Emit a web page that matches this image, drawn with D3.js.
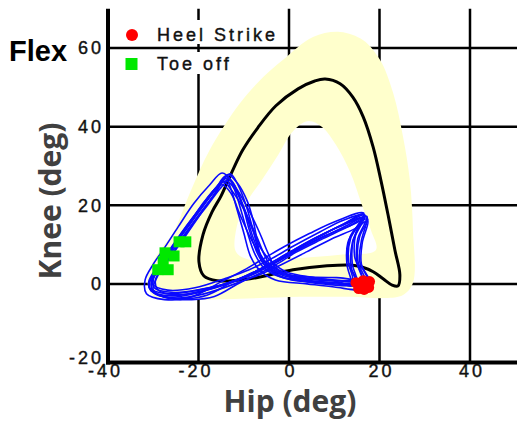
<!DOCTYPE html>
<html>
<head>
<meta charset="utf-8">
<script src="https://cdn.jsdelivr.net/npm/d3@7"></script>
<style>
body { margin: 0; background: #fff; }
</style>
</head>
<body>
<script>
let width = 517;
let height = 425;

// tick labels
let xTicks = [-40, -20, 0, 20, 40];
let yTicks = [-20, 0, 20, 40, 60];

// mean knee/hip curve (closed loop)
let meanCurve = [
	[8.0, 52.1], [11.3, 50.9], [14.1, 47.5], [16.4, 42.5], [18.6, 34.8], [20.3, 26.4],
	[21.9, 17.5], [23.4, 8.6], [24.5, 2.3], [24.1, -0.5], [22.8, -0.3], [20.8, 1.3],
	[18.6, 3.1], [16.1, 4.3], [13.5, 4.8], [8.4, 4.6], [0.9, 3.6], [-8.6, 1.3],
	[-15.9, 0.8], [-18.8, 2.0], [-19.9, 5.6], [-19.0, 12.5], [-17.0, 18.3], [-15.0, 22.4],
	[-12.6, 28.5], [-10.2, 34.1], [-6.9, 39.7], [-2.9, 45.3], [2.0, 49.6], [5.7, 51.6]
];

// normal band, outer edge and inner hole
let bandOuter = [
	[-30.7, -2.0], [-31.2, 2.3], [-28.5, 8.6], [-25.6, 13.0], [-21.9, 23.1], [-17.5, 34.1],
	[-10.8, 46.0], [-5.7, 52.6], [-1.3, 57.0], [5.3, 62.8], [11.3, 64.1], [16.4, 62.0],
	[20.1, 57.0], [23.0, 48.6], [25.2, 37.4], [26.7, 26.4], [27.4, 13.7], [27.4, 0.3],
	[25.2, -2.8], [21.2, -3.6], [13.5, -3.3], [2.4, -3.3], [-10.8, -3.8], [-24.1, -4.1],
	[-29.0, -3.8]
];
let bandInner = [
	[4.2, 41.4], [7.3, 39.9], [10.4, 35.3], [13.5, 28.5], [16.1, 20.1], [18.1, 13.7],
	[19.2, 8.6], [11.3, 7.4], [2.4, 6.6], [-8.6, 6.1], [-11.7, 8.1], [-11.7, 13.7],
	[-9.7, 20.1], [-6.0, 26.4], [-2.4, 32.8], [0.7, 38.6]
];

// measured cycles
let cycle1 = [[15,0.3],[14,5],[14.2,11],[16.8,17.5],[12,15.2],[6.5,12],[1,8.5],[-3.5,5.2],[-8,2.8],[-13,0.5],[-20,-2],[-26,-3],[-30.5,-1.8],[-31,0.5],[-29,4.5],[-26.5,8.5],[-23,14.2],[-19.5,19.5],[-16.5,24],[-13.5,27],[-12.2,24.5],[-10.8,19.5],[-9.3,13.5],[-7.5,7.5],[-5.5,4],[-2,1.8],[5,0.8],[11,0.3]];
let cycle2 = [[16.5,-0.5],[15,5.5],[15.2,11.5],[17.2,17],[13,14.5],[7,11.2],[1.5,8],[-3,4.8],[-7,2.4],[-12,0],[-19,-2.6],[-25,-3.6],[-29.5,-2.5],[-30.5,0],[-28.5,4],[-26,8],[-22.5,13.5],[-19,19],[-16,23.5],[-14.5,26],[-12.5,23.5],[-9.8,18.5],[-8,12],[-6,6.5],[-4,3.5],[0,1.2],[7,0.3],[12.5,-0.2]];
let cycle3 = [[14,0.8],[13,6],[13.5,12],[16.2,16.5],[11,14.5],[5.5,11.5],[0,8],[-4.5,5],[-9,2.2],[-14,0],[-21,-1.8],[-27,-2.5],[-30.8,-1],[-30.5,1.5],[-28,5.5],[-25.5,9.5],[-22,15],[-18.5,20.5],[-15.5,25],[-13,28],[-11.2,25],[-9.5,20],[-8,14],[-6.5,8],[-4.5,4.5],[-1,2],[6,1],[11,0.8]];
let cycle4 = [[17,0],[15.2,6],[15.6,12],[17.4,16.5],[13.5,14.8],[8,12.3],[2.5,9],[-2.5,5.8],[-6.5,3.2],[-11,1],[-18,-1.5],[-24.5,-2.8],[-29,-1.5],[-29.5,1],[-27.5,5],[-25,9],[-21.5,14.8],[-18,20],[-15,24.5],[-13.2,26.5],[-11.5,24],[-9,19],[-6.5,13],[-4.5,7.5],[-3,4.2],[1,2],[8,1.2],[13.5,0.5]];
let cycle5 = [[15.8,-1.2],[13.8,4],[14,10.5],[16.4,17.8],[12.5,15.5],[7.5,12.5],[2,9],[-2,6],[-7,3],[-12,0.8],[-18,-2.8],[-23,-3.8],[-28.5,-3],[-31,-0.5],[-29.5,3],[-27,7.2],[-24,12.5],[-20.5,18],[-17.5,22.5],[-14,26.8],[-12.8,24],[-11.5,19],[-10,13],[-8.5,7],[-6.5,3.5],[-3,1],[4,0],[10,-0.8]];
let cycle6 = [[14.8,0],[13.2,5.5],[13.6,11.5],[16.2,16.8],[11.5,14.8],[6,11.8],[0.5,8.3],[-4,5.3],[-8.5,2.5],[-13.5,0.2],[-20.5,-2.4],[-26.5,-3.4],[-30,-2.2],[-30.2,0.8],[-28.2,4.8],[-25.8,8.8],[-22.8,14],[-19.2,19.8],[-16.2,24.2],[-14,27.4],[-12,24.8],[-10.2,19.8],[-8.8,13.8],[-7,7.8],[-5,4.2],[-1.5,1.6],[5.5,0.5],[11,0.2]];
let cycle7 = [[17.5,0.5],[15.6,5.8],[16,11],[17.2,17.2],[13,15],[7.8,12],[2.2,8.8],[-2.8,5.6],[-7.8,3],[-12.5,0.6],[-19.5,-1.4],[-25.5,-2.2],[-29.8,-1],[-29.8,2],[-27.8,6],[-25.2,10],[-22,15.4],[-18.8,20.8],[-15.8,24.8],[-13.8,26.2],[-11.8,23.8],[-9.6,18.2],[-7.2,12.2],[-5.2,6.8],[-3.6,4],[0.5,1.9],[8.5,1],[14,0.8]];
let cycle8 = [[13.8,-0.5],[12.8,5],[13,10.5],[16.5,18],[10.5,16],[4.5,12.8],[-1,9.5],[-5.5,6.5],[-10,3.5],[-15,0.5],[-22,-3.5],[-27.5,-4],[-31.5,-2.5],[-31.8,1],[-30,5],[-27.5,9.2],[-24.5,14.5],[-21,20.5],[-17.5,25.2],[-14.8,28.2],[-12.5,26],[-10.5,21],[-8.5,15],[-6.2,9],[-4,5.8],[-0.5,3],[6,1.5],[11,0.5]];
let cycle9 = [[18.2,-0.3],[16,5],[16.2,10.5],[17.4,16],[14.5,14],[9.5,11.5],[4,8.2],[-1.5,5],[-6,2.6],[-10.5,0.5],[-16.5,-3.2],[-21.5,-4],[-27,-3.5],[-30,-1.5],[-28.8,2.5],[-26.2,6.8],[-23,12],[-20,17],[-17,22],[-14.8,25.2],[-12.8,23],[-10.8,17.5],[-8.2,11],[-5.5,6],[-2.5,3.5],[2,1],[9,-0.2],[14.5,-0.5]];
let cycle10 = [[16,1.5],[14.5,7],[14.8,13],[16.6,17.6],[12,16.2],[6.8,13.2],[0.8,9.5],[-4.2,6.2],[-8.8,3.6],[-13.8,1.5],[-20.8,-1],[-26.8,-1.6],[-30.2,0],[-29.8,3],[-27.2,7],[-24.8,11],[-21.2,16.5],[-18,21.5],[-15.2,25.5],[-13.5,27.8],[-11.5,25.8],[-9.2,21],[-7.8,15.5],[-6.8,9.5],[-5.8,5.5],[-2.5,2.8],[4,1.8],[10.5,1.6]];

// events
let heelStrike = [[14.8,0.3],[15.6,-0.8],[16.4,0.8],[17.2,-0.2],[17.8,0.6],[15.4,-1.2],[16.6,-1.4],[17.6,-0.9],[16,0]];
let toeOff = [[-24.3,10.7],[-22.8,10.7],[-27.4,7.9],[-25.4,7.1],[-29.0,3.6],[-26.7,3.6],[-27.8,5.6]];

let xScale = d3.scaleLinear()
	.domain([-40, 40])
	.range([108, 470]);

let yScale = d3.scaleLinear()
	.domain([-20, 60])
	.range([362.5, 48]);

let svg = d3.select("body")
	.append("svg")
		.attr("width", width)
		.attr("height", height);

svg.append("rect")
	.attr("width", width)
	.attr("height", height)
	.attr("fill", "#fff");

// grid
svg.append("g")
	.selectAll("line")
	.data(yTicks.filter(d => d > -20))
	.join("line")
		.attr("x1", xScale(-40))
		.attr("x2", width)
		.attr("y1", d => yScale(d))
		.attr("y2", d => yScale(d))
		.attr("stroke", "#000")
		.attr("stroke-width", 2.5);

svg.append("g")
	.selectAll("line")
	.data(xTicks.filter(d => d > -40))
	.join("line")
		.attr("x1", d => xScale(d))
		.attr("x2", d => xScale(d))
		.attr("y1", yScale(70))
		.attr("y2", yScale(-20))
		.attr("stroke", "#000")
		.attr("stroke-width", 2.5);

// band
let bandLine = d3.line()
	.x(d => xScale(d[0]))
	.y(d => yScale(d[1]))
	.curve(d3.curveCatmullRomClosed.alpha(0.5));

svg.append("path")
	.attr("d", bandLine(bandOuter) + bandLine(bandInner))
	.attr("fill", "#ffffcc")
	.attr("fill-rule", "evenodd");

// mean curve
svg.append("path")
	.attr("d", bandLine(meanCurve))
	.attr("fill", "none")
	.attr("stroke", "#000")
	.attr("stroke-width", 3);

// cycles
let cycles = [cycle1, cycle2, cycle3, cycle4, cycle5, cycle6, cycle7, cycle8, cycle9, cycle10];
svg.append("g")
	.selectAll("path")
	.data(cycles)
	.join("path")
		.attr("d", d => bandLine(d))
		.attr("fill", "none")
		.attr("stroke", "#0a0aff")
		.attr("stroke-width", 1.6);

// heel strike / toe off
svg.append("g")
	.selectAll("circle")
	.data(heelStrike)
	.join("circle")
		.attr("cx", d => xScale(d[0]))
		.attr("cy", d => yScale(d[1]))
		.attr("r", 5.5)
		.attr("fill", "#ff0000");

svg.append("g")
	.selectAll("rect")
	.data(toeOff)
	.join("rect")
		.attr("x", d => xScale(d[0]) - 5.5)
		.attr("y", d => yScale(d[1]) - 5.5)
		.attr("width", 11)
		.attr("height", 11)
		.attr("fill", "#00e800");

// axes
let xAxis = d3.axisBottom(xScale).tickValues(xTicks).tickFormat(d => String(d)).tickSize(0).tickPadding(2);
let yAxis = d3.axisLeft(yScale).tickValues(yTicks).tickFormat(d => String(d)).tickSize(0).tickPadding(4);

let gx = svg.append("g")
	.attr("transform", "translate(0," + yScale(-20) + ")")
	.call(xAxis);
gx.select(".domain").remove();
gx.selectAll("text")
	.attr("dx", d => d < 0 ? -3 : 1.5);

let gy = svg.append("g")
	.attr("transform", "translate(" + xScale(-40) + ",0)")
	.call(yAxis);
gy.select(".domain").remove();
gy.selectAll("text")
	.attr("dy", d => d == -20 ? "0.05em" : "0.32em");

svg.selectAll(".tick text")
	.attr("font-family", "Liberation Sans, Arial, sans-serif")
	.attr("font-size", 18)
	.attr("letter-spacing", 3)
	.attr("fill", "#111")
	.attr("stroke", "#111")
	.attr("stroke-width", 0.4);

// axis lines
svg.append("line")
	.attr("x1", xScale(-40))
	.attr("x2", xScale(-40))
	.attr("y1", yScale(70))
	.attr("y2", yScale(-20) + 2)
	.attr("stroke", "#000")
	.attr("stroke-width", 4);

svg.append("line")
	.attr("x1", xScale(-40) - 2)
	.attr("x2", width)
	.attr("y1", yScale(-20))
	.attr("y2", yScale(-20))
	.attr("stroke", "#000")
	.attr("stroke-width", 4);

// legend
let legend = svg.append("g")
	.attr("font-family", "Liberation Sans, Arial, sans-serif")
	.attr("font-size", 18)
	.attr("letter-spacing", 3)
	.attr("fill", "#111");

legend.append("rect").attr("x", 150).attr("y", 20).attr("width", 132).attr("height", 24).attr("fill", "#fff");
legend.append("rect").attr("x", 150).attr("y", 52).attr("width", 92).attr("height", 22).attr("fill", "#fff");
legend.append("circle").attr("cx", 132).attr("cy", 35).attr("r", 6).attr("fill", "#ff0000");
legend.append("rect").attr("x", 125.5).attr("y", 58).attr("width", 12).attr("height", 12).attr("fill", "#00e800");
legend.append("text").attr("x", 157).attr("y", 41).attr("stroke", "#111").attr("stroke-width", 0.4).text("Heel Strike");
legend.append("text").attr("x", 157).attr("y", 70).attr("stroke", "#111").attr("stroke-width", 0.4).text("Toe off");

// titles
svg.append("text")
	.attr("x", 9)
	.attr("y", 61)
	.attr("font-family", "Liberation Sans, Arial, sans-serif")
	.attr("font-weight", "bold")
	.attr("font-size", 29)
	.attr("fill", "#000")
	.text("Flex");

svg.append("text")
	.attr("x", 290)
	.attr("y", 412)
	.attr("text-anchor", "middle")
	.attr("font-family", "Open Sans, sans-serif")
	.attr("font-weight", "bold")
	.attr("font-size", 30)
	.attr("fill", "#404040")
	.text("Hip (deg)");

svg.append("text")
	.attr("transform", "translate(61,201) rotate(-90)")
	.attr("text-anchor", "middle")
	.attr("font-family", "Open Sans, sans-serif")
	.attr("font-weight", "bold")
	.attr("font-size", 30)
	.attr("fill", "#404040")
	.text("Knee (deg)");
</script>
</body>
</html>
